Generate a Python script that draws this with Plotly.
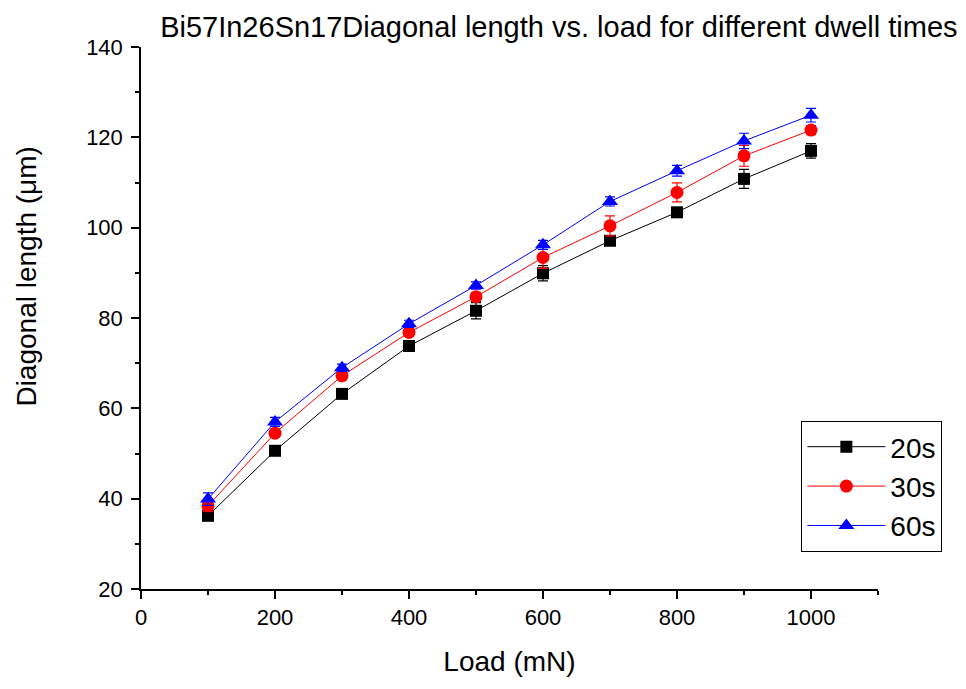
import plotly.graph_objs as go

# Data
load = [100, 200, 300, 400, 500, 600, 700, 800, 900, 1000]

d20 = [36.2, 50.6, 63.2, 73.8, 81.6, 89.9, 97.1, 103.4, 110.8, 117.0]
e20 = [0.6, 0.6, 0.7, 0.6, 1.8, 1.7, 0.8, 0.6, 2.1, 1.6]

d30 = [38.4, 54.5, 67.2, 76.8, 84.7, 93.4, 100.4, 107.8, 115.9, 121.6]
e30 = [1.2, 0.8, 0.8, 0.8, 1.0, 2.4, 2.2, 2.1, 2.3, 1.0]

d60 = [39.9, 57.0, 69.0, 78.7, 87.2, 96.2, 105.8, 112.6, 119.2, 124.9]
e60 = [1.4, 1.0, 0.8, 0.8, 0.8, 1.0, 1.0, 1.2, 1.7, 1.5]

series = [
    ('20s', d20, e20, 'black', 'square', 12),
    ('30s', d30, e30, 'red', 'circle', 13),
    ('60s', d60, e60, 'blue', 'triangle-up', 14),
]

fig = go.Figure()
for name, y, err, col, sym, size in series:
    fig.add_trace(go.Scatter(
        x=load, y=y, name=name, mode='lines+markers',
        line=dict(color=col, width=1),
        marker=dict(symbol=sym, size=size, color=col),
        error_y=dict(type='data', array=err, color=col, thickness=1.2, width=5),
    ))

axis_font = dict(family='Liberation Sans, Arial', size=22, color='black')

# page body adds 8px, so margins are shifted by 8
fig.update_layout(
    width=966, height=689,
    margin=dict(l=133, r=96, t=39, b=108),
    plot_bgcolor='white', paper_bgcolor='white',
    font=dict(family='Liberation Sans, Arial', color='black'),
    title=dict(
        text='Bi57In26Sn17Diagonal length vs. load for different dwell times',
        font=dict(size=29, color='black'),
        x=0.567, xref='paper', xanchor='center',
        y=0.973, yref='container', yanchor='middle',
    ),
    legend=dict(
        x=0.896, y=0.31, xanchor='left', yanchor='top',
        bordercolor='black', borderwidth=1, bgcolor='white',
        font=dict(size=28, color='black'),
        itemwidth=78, tracegroupgap=0,
    ),
    showlegend=True,
)

# y title as annotation (sits above the plot centre in the reference)
fig.add_annotation(
    text='Diagonal length (\u03bcm)', textangle=-90,
    xref='paper', yref='paper', x=-0.155, y=0.576,
    xanchor='center', yanchor='middle', showarrow=False,
    font=dict(size=28, color='black'),
)

fig.update_xaxes(
    range=[0, 1100], tickvals=[0, 200, 400, 600, 800, 1000],
    showgrid=False, zeroline=False, automargin=False,
    showline=True, linecolor='black', linewidth=1.5,
    ticks='outside', ticklen=8, tickwidth=1.5, tickcolor='black',
    minor=dict(tickvals=[100, 300, 500, 700, 900, 1100], ticks='outside',
               ticklen=4, tickwidth=1.5, tickcolor='black'),
    tickfont=axis_font,
    title=dict(text='Load (mN)', font=dict(size=28), standoff=22),
)
fig.update_yaxes(
    range=[20, 140], tickvals=[20, 40, 60, 80, 100, 120, 140],
    showgrid=False, zeroline=False, automargin=False,
    showline=True, linecolor='black', linewidth=1.5,
    ticks='outside', ticklen=8, tickwidth=1.5, tickcolor='black',
    minor=dict(tickvals=[30, 50, 70, 90, 110, 130], ticks='outside',
               ticklen=4, tickwidth=1.5, tickcolor='black'),
    tickfont=axis_font, ticklabelstandoff=4,
)

fig.write_html("out.html")
